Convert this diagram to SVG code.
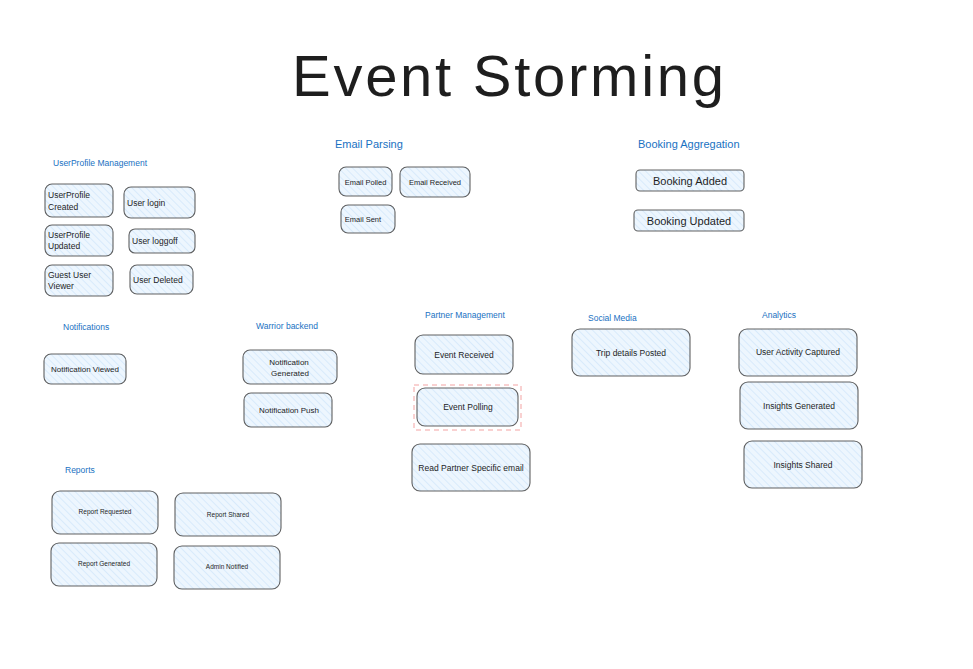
<svg xmlns="http://www.w3.org/2000/svg" width="973" height="669" viewBox="0 0 973 669">
<defs>
<pattern id="hach" patternUnits="userSpaceOnUse" width="5" height="5" patternTransform="rotate(-45)">
<rect width="5" height="5" fill="#edf6fe"/>
<line x1="0" y1="0" x2="0" y2="5" stroke="#cfe6fa" stroke-width="1.4"/>
</pattern>
<style>
.n{fill:url(#hach);stroke:#3a3a3a;stroke-width:1.1;stroke-opacity:0.8}
.t{font-family:"Liberation Sans",Arial,sans-serif;fill:#1e1e1e;text-anchor:middle}
.ts{font-family:"Liberation Sans",Arial,sans-serif;fill:#1e1e1e;text-anchor:start}
.h{font-family:"Liberation Sans",Arial,sans-serif;fill:#1971c2;text-anchor:start}
</style>
</defs>
<rect width="973" height="669" fill="#ffffff"/>
<text x="508" y="96" class="t" font-size="58" textLength="432" lengthAdjust="spacing">Event Storming</text>

<g id="section-labels">
<text x="53" y="166" class="h" font-size="8.5">UserProfile Management</text>
<text x="335" y="148" class="h" font-size="11">Email Parsing</text>
<text x="638" y="148" class="h" font-size="11">Booking Aggregation</text>
<text x="63" y="330" class="h" font-size="8.5">Notifications</text>
<text x="256" y="329" class="h" font-size="8.5">Warrior backend</text>
<text x="425" y="318" class="h" font-size="8.5">Partner Management</text>
<text x="588" y="321" class="h" font-size="8.5">Social Media</text>
<text x="762" y="318" class="h" font-size="8.5">Analytics</text>
<text x="65" y="473" class="h" font-size="8.5">Reports</text>
</g>

<g id="connectors"></g>

<g id="up-created"><rect class="n" x="45" y="184" width="68" height="33" rx="7"/><text class="ts" x="48" y="198" font-size="8.5">UserProfile</text><text class="ts" x="48" y="210" font-size="8.5">Created</text></g>
<g id="user-login"><rect class="n" x="124" y="187" width="71" height="31" rx="7"/><text class="ts" x="127" y="206" font-size="8.5">User login</text></g>
<g id="up-updated"><rect class="n" x="45" y="225" width="68" height="31" rx="7"/><text class="ts" x="48" y="238" font-size="8.5">UserProfile</text><text class="ts" x="48" y="249" font-size="8.5">Updated</text></g>
<g id="user-loggoff"><rect class="n" x="129" y="229" width="66" height="24" rx="6"/><text class="ts" x="132" y="244" font-size="8.5">User loggoff</text></g>
<g id="guest-viewer"><rect class="n" x="45" y="265" width="68" height="31" rx="7"/><text class="ts" x="48" y="278" font-size="8.5">Guest User</text><text class="ts" x="48" y="289" font-size="8.5">Viewer</text></g>
<g id="user-deleted"><rect class="n" x="130" y="265" width="63" height="29" rx="7"/><text class="ts" x="133" y="283" font-size="8.5">User Deleted</text></g>

<g id="email-polled"><rect class="n" x="339" y="167" width="53" height="29" rx="7"/><text class="t" x="365.5" y="185" font-size="7.5">Email Polled</text></g>
<g id="email-received"><rect class="n" x="400" y="167" width="70" height="30" rx="7"/><text class="t" x="435" y="185" font-size="7.5">Email Received</text></g>
<g id="email-sent"><rect class="n" x="341" y="205" width="54" height="28" rx="7"/><text class="t" x="363" y="222" font-size="7.5">Email Sent</text></g>

<g id="booking-added"><rect class="n" x="636" y="170" width="108" height="21" rx="4"/><text class="t" x="690" y="184.5" font-size="11">Booking Added</text></g>
<g id="booking-updated"><rect class="n" x="634" y="210" width="110" height="21" rx="4"/><text class="t" x="689" y="224.5" font-size="11">Booking Updated</text></g>

<g id="notification-viewed"><rect class="n" x="44" y="354" width="82" height="30" rx="7"/><text class="t" x="85" y="372" font-size="8">Notification Viewed</text></g>
<g id="notification-generated"><rect class="n" x="243" y="350" width="94" height="34" rx="7"/><text class="t" x="289" y="365" font-size="8">Notification</text><text class="t" x="290" y="376" font-size="8">Generated</text></g>
<g id="notification-push"><rect class="n" x="244" y="393" width="88" height="34" rx="7"/><text class="t" x="289" y="413" font-size="8">Notification Push</text></g>

<g id="event-received"><rect class="n" x="415" y="335" width="98" height="39" rx="8"/><text class="t" x="464" y="358" font-size="8.5">Event Received</text></g>
<g id="event-polling"><rect x="414" y="385" width="107" height="45" fill="none" stroke="#f08c8c" stroke-width="1" stroke-dasharray="5 4" stroke-opacity="0.8"/><rect class="n" x="417" y="388" width="101" height="38" rx="8"/><text class="t" x="468" y="410" font-size="8.5">Event Polling</text></g>
<g id="read-partner-email"><rect class="n" x="412" y="444" width="118" height="47" rx="8"/><text class="t" x="471" y="471" font-size="8.5">Read Partner Specific email</text></g>

<g id="trip-details-posted"><rect class="n" x="572" y="329" width="118" height="47" rx="8"/><text class="t" x="631" y="356" font-size="8.5">Trip details Posted</text></g>

<g id="user-activity-captured"><rect class="n" x="739" y="329" width="118" height="47" rx="8"/><text class="t" x="798" y="355" font-size="8.5">User Activity Captured</text></g>
<g id="insights-generated"><rect class="n" x="740" y="382" width="118" height="47" rx="8"/><text class="t" x="799" y="409" font-size="8.5">Insights Generated</text></g>
<g id="insights-shared"><rect class="n" x="744" y="441" width="118" height="47" rx="8"/><text class="t" x="803" y="468" font-size="8.5">Insights Shared</text></g>

<g id="report-requested"><rect class="n" x="52" y="491" width="106" height="43" rx="8"/><text class="t" x="105" y="514" font-size="6.5">Report Requested</text></g>
<g id="report-shared"><rect class="n" x="175" y="493" width="106" height="43" rx="8"/><text class="t" x="228" y="517" font-size="6.5">Report Shared</text></g>
<g id="report-generated"><rect class="n" x="51" y="543" width="106" height="43" rx="8"/><text class="t" x="104" y="566" font-size="6.5">Report Generated</text></g>
<g id="admin-notified"><rect class="n" x="174" y="546" width="106" height="43" rx="8"/><text class="t" x="227" y="569" font-size="6.5">Admin Notified</text></g>
</svg>
